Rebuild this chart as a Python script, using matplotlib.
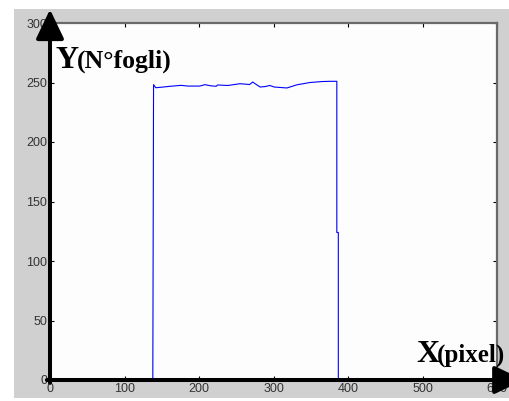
import matplotlib
matplotlib.use("Agg")
import matplotlib.pyplot as plt
from matplotlib.patches import Rectangle

# profile: X in pixel, Y in number of sheets
x_px = [0, 138, 139, 142, 152, 161, 176, 185, 201, 208, 215, 223, 225, 239,
        255, 268, 272, 282, 289, 295, 301, 318, 331, 349, 365, 376, 385,
        385, 387, 387, 600]
y_fogli = [0, 0, 248.2, 245.6, 246.2, 246.8, 247.6, 247.0, 247.0, 248.2,
           247.3, 246.8, 247.9, 247.5, 249.0, 248.3, 250.4, 246.2, 246.6,
           247.5, 246.2, 245.4, 248.0, 250.0, 250.8, 251.0, 251.0,
           124, 124, 0, 0]

x_ticks = [0, 100, 200, 300, 400, 500, 600]
y_ticks = [0, 50, 100, 150, 200, 250, 300]

W, H = 510, 401
fig = plt.figure(figsize=(W / 100, H / 100), dpi=100, facecolor="white")

# grey matlab-style window background
bg = Rectangle((14 / W, 3 / H), 1 - 14 / W, (398 - 9) / H,
               transform=fig.transFigure, facecolor="#d0d0d0",
               edgecolor="none", zorder=-1)
fig.add_artist(bg)

ax = fig.add_axes([50 / W, (H - 380) / H, 447 / W, 357 / H])
ax.set_zorder(1)
ax.set_facecolor("#fdfdfd")
ax.plot(x_px, y_fogli, color="#0000ff", lw=0.8, clip_on=False)

ax.set_xlim(0, 600)
ax.set_ylim(0, 300)
ax.set_xticks(x_ticks)
ax.set_yticks(y_ticks)
ax.tick_params(direction="in", length=3, width=0.8, top=True, right=True,
               labelsize=9, labelcolor="#333333", pad=2)
for lab in ax.get_xticklabels() + ax.get_yticklabels():
    lab.set_fontfamily("Liberation Sans")
for side in ["top", "right"]:
    ax.spines[side].set_color("#6a6a6a")
    ax.spines[side].set_linewidth(1.6)
for side in ["left", "bottom"]:
    ax.spines[side].set_visible(False)

# thick black axis arrows
arrow = dict(arrowstyle="-|>,head_length=18,head_width=8.6", color="black",
             lw=2.9, mutation_scale=1, shrinkA=0, shrinkB=0)
ax.annotate("", xy=(0, 1.038), xytext=(0, -0.008), xycoords="axes fraction",
            arrowprops=arrow, annotation_clip=False)
ax.annotate("", xy=(1.06, 0), xytext=(-0.007, 0), xycoords="axes fraction",
            arrowprops=arrow, annotation_clip=False)

serif = "Liberation Serif"
fig.text(55 / W, 1 - 68 / H, "Y", fontsize=23, fontweight="bold",
         family=serif, va="baseline", zorder=5)
fig.text(77 / W, 1 - 68 / H, "(N°fogli)", fontsize=18.5, fontweight="bold",
         family=serif, va="baseline", zorder=5)
fig.text(416 / W, 1 - 362 / H, "X", fontsize=23, fontweight="bold",
         family=serif, va="baseline", zorder=5)
fig.text(437 / W, 1 - 362 / H, "(pixel)", fontsize=18, fontweight="bold",
         family=serif, va="baseline", zorder=5)

fig.savefig("out.png", dpi=100)
